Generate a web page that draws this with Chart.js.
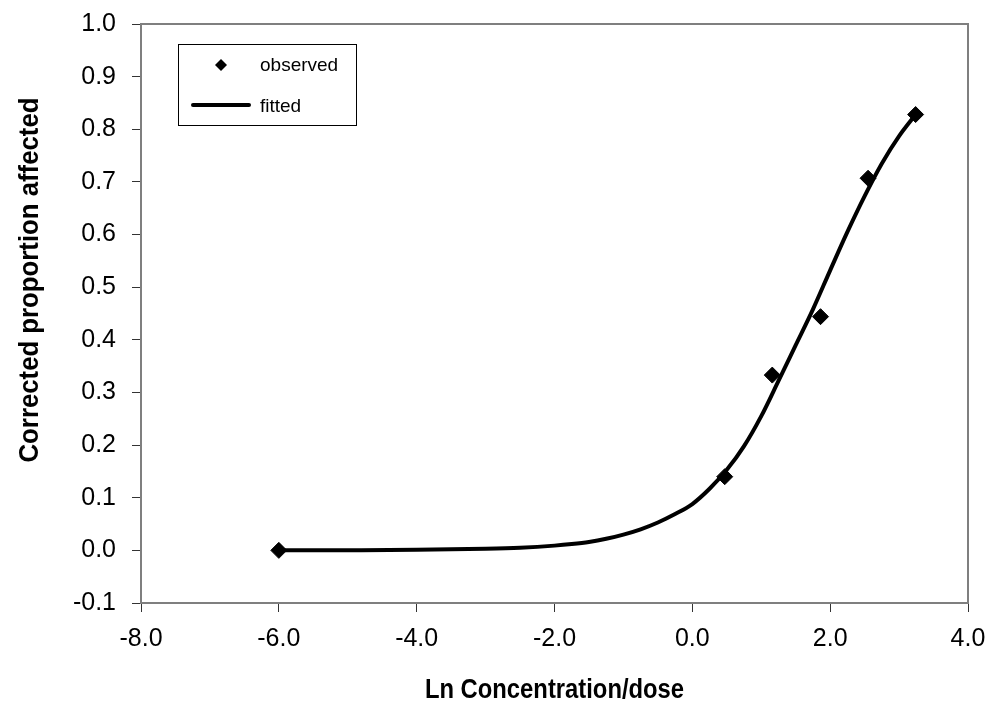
<!DOCTYPE html>
<html>
<head>
<meta charset="utf-8">
<script src="https://cdn.jsdelivr.net/npm/chart.js@4/dist/chart.umd.min.js"></script>
<style>
    html, body { margin: 0; padding: 0; background: #fff; }
    #wrap { width: 989px; height: 701px; }
</style>
</head>
<body>
<div id="wrap"><canvas id="doseChart"></canvas></div>
<script>
// observed points (ln dose vs corrected proportion)
const obsX = [-6.0, 0.47, 1.16, 1.86, 2.55, 3.24];
const obsY = [0.0, 0.14, 0.333, 0.444, 0.707, 0.828];

// fitted curve
const fitX = [-6.0, -5.0, -4.0, -3.0, -2.5, -2.0, -1.75, -1.5, -1.25, -1.0, -0.75, -0.5, -0.25, 0.0, 0.25, 0.5, 0.75, 1.0, 1.25, 1.5, 1.75, 2.0, 2.25, 2.5, 2.75, 3.0, 3.24];
const fitY = [0.0, 0.0003, 0.001, 0.003, 0.005, 0.009, 0.012, 0.016, 0.022, 0.030, 0.040, 0.053, 0.069, 0.088, 0.117, 0.153, 0.198, 0.255, 0.322, 0.390, 0.458, 0.532, 0.605, 0.673, 0.735, 0.787, 0.828];

const xTicks = [-8, -6, -4, -2, 0, 2, 4];
const yTicks = [-0.1, 0.0, 0.1, 0.2, 0.3, 0.4, 0.5, 0.6, 0.7, 0.8, 0.9, 1.0];

const xTitle = "Ln Concentration/dose";
const yTitle = "Corrected proportion affected";

const sans = "'Liberation Sans', Arial, sans-serif";

// squeezed bold text, the titles use a narrow face
function narrowText(ctx, text, x, y, rot, squeeze) {
    ctx.save();
    ctx.translate(x, y);
    ctx.rotate(rot);
    ctx.scale(squeeze, 1);
    ctx.fillText(text, 0, 0);
    ctx.restore();
}

// frame, axis titles and the boxed legend
const extras = {
    id: "extras",
    afterDraw(chart) {
        const ctx = chart.ctx;
        const a = chart.chartArea;
        ctx.save();
        ctx.strokeStyle = "#7f7f7f";
        ctx.lineWidth = 2;
        ctx.strokeRect(a.left, a.top, a.right - a.left, a.bottom - a.top);

        ctx.fillStyle = "#000";
        ctx.font = "bold 28px " + sans;
        ctx.textAlign = "center";
        ctx.textBaseline = "alphabetic";
        narrowText(ctx, xTitle, (a.left + a.right) / 2, 698, 0, 0.85);
        narrowText(ctx, yTitle, 38, 280, -Math.PI / 2, 0.92);
        ctx.restore();

        ctx.save();
        ctx.strokeStyle = "#000";
        ctx.lineWidth = 1;
        ctx.strokeRect(178.5, 44.5, 178, 81);
        ctx.fillStyle = "#000";
        ctx.beginPath();
        ctx.moveTo(221, 59);
        ctx.lineTo(227, 65);
        ctx.lineTo(221, 71);
        ctx.lineTo(215, 65);
        ctx.closePath();
        ctx.fill();
        ctx.lineWidth = 4;
        ctx.lineCap = "round";
        ctx.beginPath();
        ctx.moveTo(193, 105);
        ctx.lineTo(249, 105);
        ctx.stroke();
        ctx.font = "19px " + sans;
        ctx.textAlign = "left";
        ctx.textBaseline = "alphabetic";
        ctx.fillText(chart.data.datasets[0].label, 260, 71);
        ctx.fillText(chart.data.datasets[1].label, 260, 112);
        ctx.restore();
    }
};

const ctx = document.getElementById("doseChart").getContext("2d");
new Chart(ctx, {
    type: "scatter",
    data: {
        datasets: [
            {
                label: "observed",
                data: obsX.map((x, i) => ({ x, y: obsY[i] })),
                pointStyle: "rectRot",
                pointRadius: 8,
                pointHoverRadius: 8,
                backgroundColor: "#000",
                borderColor: "#000",
                showLine: false,
                order: 0
            },
            {
                label: "fitted",
                data: fitX.map((x, i) => ({ x, y: fitY[i] })),
                showLine: true,
                borderColor: "#000",
                borderWidth: 4,
                pointRadius: 0,
                cubicInterpolationMode: "monotone",
                order: 1
            }
        ]
    },
    options: {
        responsive: true,
        maintainAspectRatio: false,
        animation: false,
        layout: { padding: { top: 24, right: 21, left: 0, bottom: 0 } },
        plugins: {
            legend: { display: false },
            tooltip: { enabled: false }
        },
        scales: {
            x: {
                min: -8,
                max: 4,
                afterFit(axis) {
                    axis.height = 98;
                    axis.paddingLeft = 0;
                    axis.paddingRight = 0;
                },
                afterBuildTicks(axis) { axis.ticks = xTicks.map(v => ({ value: v })); },
                grid: { drawOnChartArea: false, tickLength: 9, color: "#333" },
                border: { color: "#7f7f7f", width: 2 },
                ticks: {
                    color: "#000",
                    font: { family: sans, size: 25 },
                    padding: 12,
                    maxRotation: 0,
                    callback: v => Number(v).toFixed(1)
                }
            },
            y: {
                min: -0.1,
                max: 1.0,
                afterFit(axis) {
                    axis.width = 141;
                    axis.paddingTop = 0;
                    axis.paddingBottom = 0;
                },
                afterBuildTicks(axis) { axis.ticks = yTicks.map(v => ({ value: v })); },
                grid: { drawOnChartArea: false, tickLength: 9, color: "#333" },
                border: { color: "#7f7f7f", width: 2 },
                ticks: {
                    color: "#000",
                    font: { family: sans, size: 25 },
                    padding: 16,
                    callback: v => Number(v).toFixed(1)
                }
            }
        }
    },
    plugins: [extras]
});
</script>
</body>
</html>
